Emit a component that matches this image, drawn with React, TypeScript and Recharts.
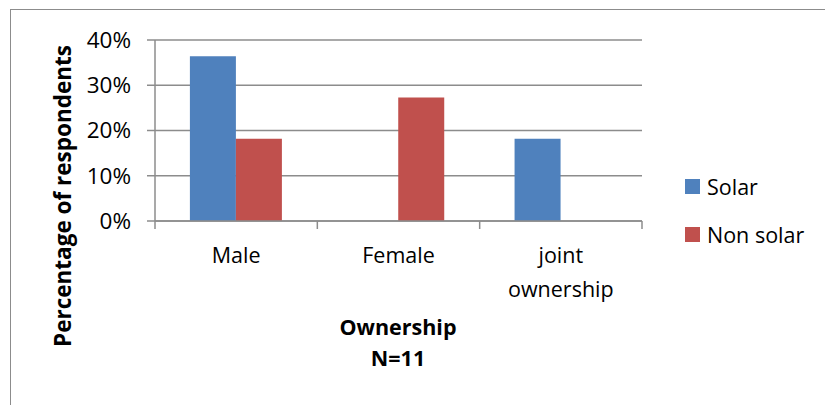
import { BarChart, Bar, XAxis, YAxis, CartesianGrid } from "recharts";

const categories = ["Male", "Female", "joint ownership"];
const solar = [0.364, 0, 0.182];
const nonSolar = [0.182, 0.273, 0];
const yTicks = [0, 0.1, 0.2, 0.3, 0.4];

const data = categories.map((name, i) => ({ name, solar: solar[i], nonSolar: nonSolar[i] }));

const FONT = "'Open Sans', sans-serif";
const BLUE = "#4F81BD";
const RED = "#C0504D";
const GRID = "#8c8c8c";

const W = 825;
const H = 405;
const PLOT_LEFT = 155;
const PLOT_RIGHT = 642;
const BAND = (PLOT_RIGHT - PLOT_LEFT) / categories.length;

function CategoryTick(props: any) {
  const { x, y, payload, index } = props;
  const words = String(payload.value).split(" ");
  const lines = words.length > 1 ? words : [payload.value];
  return (
    <g>
      <line x1={x - BAND / 2} x2={x - BAND / 2} y1={y - 8} y2={y} stroke={GRID} strokeWidth={1.5} />
      {index === categories.length - 1 && (
        <line x1={x + BAND / 2} x2={x + BAND / 2} y1={y - 8} y2={y} stroke={GRID} strokeWidth={1.5} />
      )}
      {lines.map((l: string, i: number) => (
        <text key={i} x={x} y={y + 34 + i * 34} textAnchor="middle" fontSize={21.5} fontFamily={FONT} fill="#000">
          {l}
        </text>
      ))}
    </g>
  );
}

function LegendBox() {
  const items = [
    { label: "Solar", color: BLUE },
    { label: "Non solar", color: RED },
  ];
  return (
    <div style={{ position: "absolute", left: 685, top: 162, fontFamily: FONT, fontSize: 21.5 }}>
      {items.map((it) => (
        <div key={it.label} style={{ display: "flex", alignItems: "center", height: 48 }}>
          <span style={{ width: 15, height: 15, background: it.color, marginRight: 7 }} />
          <span>{it.label}</span>
        </div>
      ))}
    </div>
  );
}

export default function App() {
  return (
    <div style={{ position: "absolute", left: 0, top: 0, width: W, height: H, overflow: "hidden", background: "#fff" }}>
      <div
        style={{
          position: "absolute",
          left: 10,
          top: 9,
          width: W + 20,
          height: H + 20,
          border: "1.5px solid #8c8c8c",
        }}
      />
      <BarChart
        width={W}
        height={H}
        data={data}
        margin={{ top: 40, right: W - PLOT_RIGHT, bottom: 0, left: 0 }}
        barCategoryGap="21.5%"
        barGap={0}
      >
        <CartesianGrid vertical={false} stroke={GRID} strokeWidth={1.5} />
        <XAxis
          dataKey="name"
          height={184}
          interval={0}
          tickLine={false}
          tickSize={8}
          tickMargin={0}
          axisLine={{ stroke: GRID, strokeWidth: 1.5 }}
          tick={<CategoryTick />}
        />
        <YAxis
          width={PLOT_LEFT}
          domain={[0, 0.4]}
          ticks={yTicks}
          interval={0}
          tickFormatter={(v: number) => `${Math.round(v * 100)}%`}
          tickSize={8}
          tickMargin={16}
          tickLine={{ stroke: GRID, strokeWidth: 1.5 }}
          axisLine={{ stroke: GRID, strokeWidth: 1.5 }}
          tick={{ fontSize: 22.5, fontFamily: FONT, fill: "#000" }}
        />
        <Bar dataKey="solar" name="Solar" fill={BLUE} isAnimationActive={false} />
        <Bar dataKey="nonSolar" name="Non solar" fill={RED} isAnimationActive={false} />
      </BarChart>
      <LegendBox />
      <div
        style={{
          position: "absolute",
          left: 62,
          top: 196,
          transform: "translate(-50%, -50%) rotate(-90deg)",
          whiteSpace: "nowrap",
          fontFamily: FONT,
          fontWeight: 700,
          fontSize: 22.5,
        }}
      >
        Percentage of respondents
      </div>
      <div
        style={{
          position: "absolute",
          left: 398,
          top: 311,
          transform: "translateX(-50%)",
          textAlign: "center",
          fontFamily: FONT,
          fontWeight: 700,
          fontSize: 21.5,
          lineHeight: "31px",
        }}
      >
        Ownership
        <br />
        N=11
      </div>
    </div>
  );
}
